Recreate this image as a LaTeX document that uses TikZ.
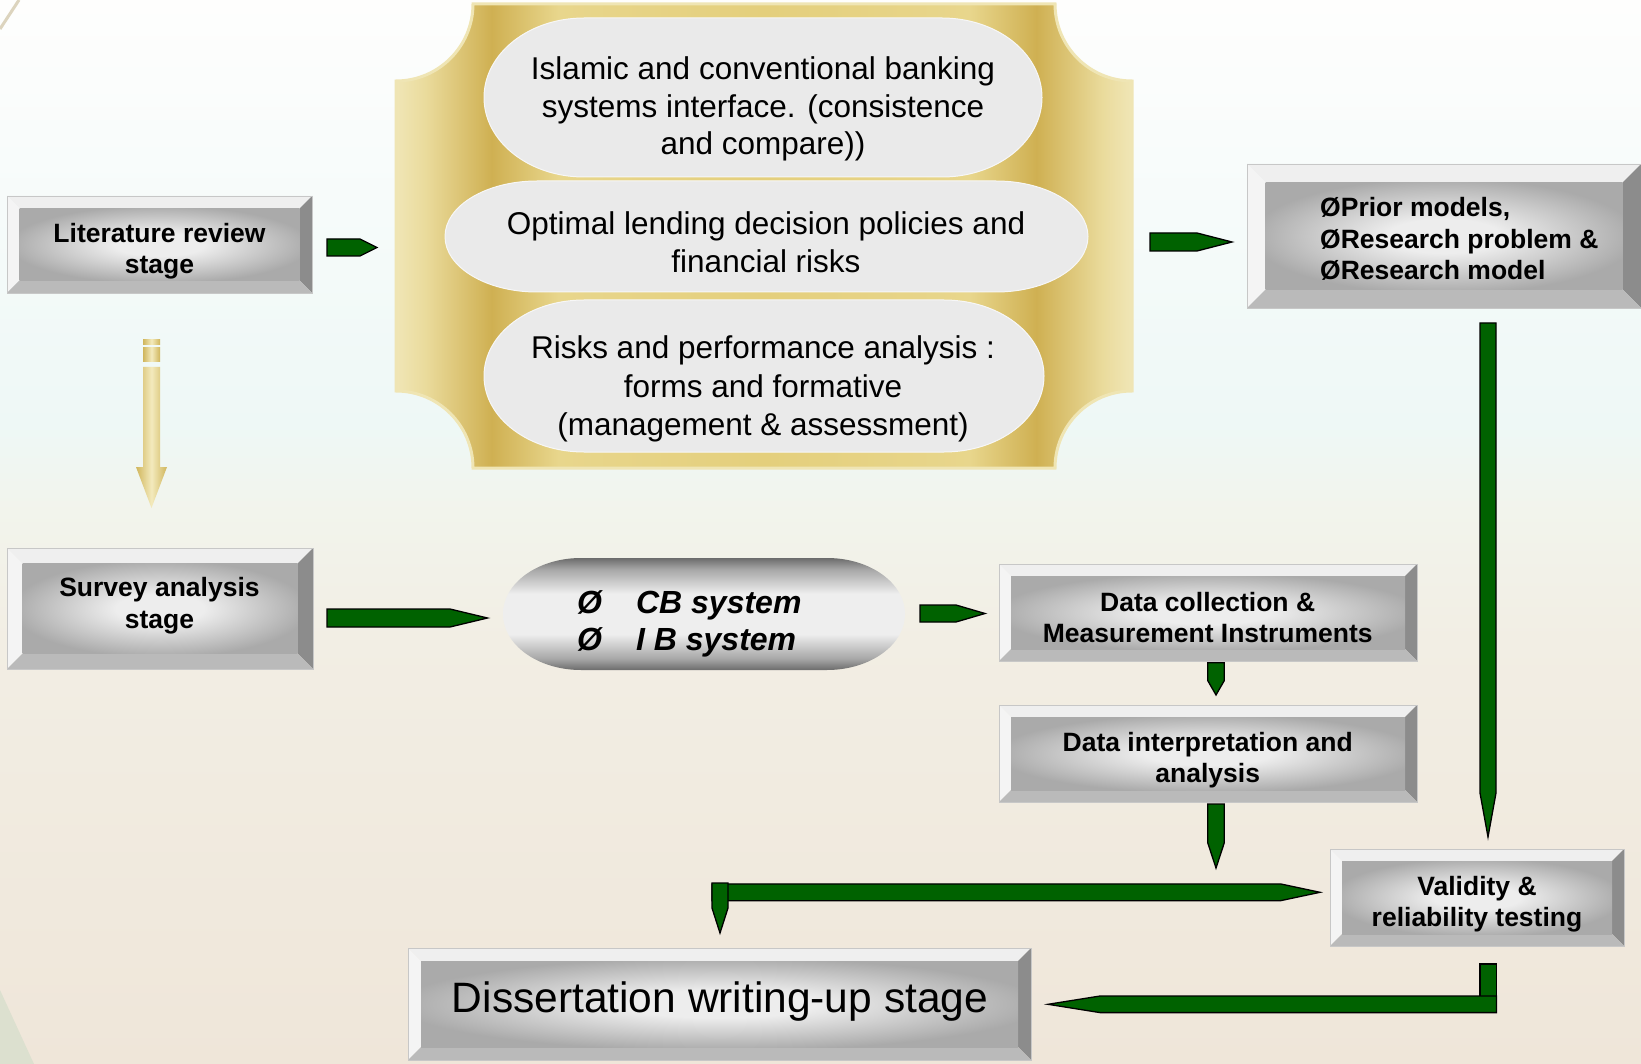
\documentclass[tikz,border=0pt]{standalone}
\usepackage{fontspec}
\setmainfont{Liberation Sans}
\usetikzlibrary{calc}
% colours
\definecolor{gfill}{RGB}{0,98,0}
\definecolor{facel}{HTML}{EDEDED}
\definecolor{faced}{HTML}{AAAAAA}
\definecolor{bvtopc}{HTML}{EFEFEF}
\definecolor{bvleftc}{HTML}{F4F4F4}
\definecolor{bvrightc}{HTML}{8C8C8C}
\definecolor{bvbotc}{HTML}{BABABA}
\definecolor{gl0}{HTML}{F0E6B6}
\definecolor{gl1}{HTML}{EADB9C}
\definecolor{gl2}{HTML}{CFB052}
\definecolor{gl3}{HTML}{E8D68C}
\definecolor{gl4}{HTML}{E4CF7C}
\definecolor{goldrim}{HTML}{EFE5B4}
\definecolor{ellc}{HTML}{EAEAEA}
\definecolor{pd}{HTML}{6C6C6C}
\definecolor{pl}{HTML}{EEEEEE}
\definecolor{ga1}{HTML}{D0B65C}
\definecolor{ga2}{HTML}{F3EABD}
\definecolor{bg0}{HTML}{EFE6D9}
\definecolor{bg1}{HTML}{F2EEE4}
\definecolor{bg2}{HTML}{F2F4EC}
\definecolor{bg3}{HTML}{EEF8F6}
\definecolor{bg4}{HTML}{F6FBFA}
\definecolor{bg5}{HTML}{FEFEFD}
\definecolor{bgcorner}{HTML}{DCE0CF}
\definecolor{bgline}{HTML}{DCD4BE}
% shadings (TikZ maps the central 25bp..75bp part onto the path)
\pgfdeclareradialshading{bvface}{\pgfpoint{0bp}{0bp}}{color(0bp)=(facel); color(8bp)=(facel); color(27bp)=(faced); color(50bp)=(faced)}
\pgfdeclarehorizontalshading{goldsh}{100bp}{color(0bp)=(gl0); color(25bp)=(gl0); color(27bp)=(gl1); color(31.5bp)=(gl2); color(36bp)=(gl3); color(50bp)=(gl4); color(64bp)=(gl3); color(68.5bp)=(gl2); color(73bp)=(gl1); color(75bp)=(gl0); color(100bp)=(gl0)}
\pgfdeclareverticalshading{pillsh}{100bp}{color(0bp)=(pd); color(25bp)=(pd); color(30bp)=(pd!55!pl); color(41bp)=(pl); color(59bp)=(pl); color(70bp)=(pd!55!pl); color(75bp)=(pd); color(100bp)=(pd)}
\pgfdeclareverticalshading{bgsh}{100bp}{color(0bp)=(bg0); color(25bp)=(bg0); color(45bp)=(bg1); color(51bp)=(bg2); color(55bp)=(bg3); color(65bp)=(bg4); color(75bp)=(bg5); color(100bp)=(bg5)}
\tikzset{
  garrow/.style={fill=gfill, draw=black, line width=1.3pt, line join=miter},
  boxframe/.style={rectangle, draw=black!22, line width=0.8pt, inner sep=0pt},
  btext/.style={inner sep=0pt, align=center, font=\fontsize{26.5}{31.5}\selectfont\bfseries},
  etext/.style={inner sep=0pt, align=center, font=\fontsize{31.5}{37.5}\selectfont},
  goldarrow/.style={left color=ga1, right color=ga1, middle color=ga2},
}
% bevelled box: name, x1, y1, x2, y2, bevel
\newcommand\bevbox[6]{%
  \fill[bvtopc] (#2,#3) -- (#4,#3) -- ({#4-#6},{#3+#6}) -- ({#2+#6},{#3+#6}) -- cycle;
  \fill[bvleftc] (#2,#3) -- ({#2+#6},{#3+#6}) -- ({#2+#6},{#5-#6}) -- (#2,#5) -- cycle;
  \fill[bvrightc] (#4,#3) -- (#4,#5) -- ({#4-#6},{#5-#6}) -- ({#4-#6},{#3+#6}) -- cycle;
  \fill[bvbotc] (#2,#5) -- (#4,#5) -- ({#4-#6},{#5-#6}) -- ({#2+#6},{#5-#6}) -- cycle;
  \shade[shading=bvface] ({#2+#6},{#3+#6}) rectangle ({#4-#6},{#5-#6});
  \node[boxframe, minimum width={#4pt-#2pt}, minimum height={#5pt-#3pt}] (#1) at ({(#2+#4)/2},{(#3+#5)/2}) {};
}
% stadium with elliptical ends: style, x1, y1, x2, y2, rx
\newcommand\stadium[6]{%
  \pgfmathsetmacro\stadA{#2+#6}%
  \pgfmathsetmacro\stadB{#4-#6}%
  \pgfmathsetmacro\stadC{(#3+#5)/2}%
  \pgfmathsetmacro\stadKx{0.5523*#6}%
  \pgfmathsetmacro\stadKy{0.5523*(#5-#3)/2}%
  \path[#1] (\stadA,#3) -- (\stadB,#3) .. controls ({\stadB+\stadKx},#3) and (#4,{\stadC-\stadKy}) .. (#4,\stadC) .. controls (#4,{\stadC+\stadKy}) and ({\stadB+\stadKx},#5) .. (\stadB,#5) -- (\stadA,#5) .. controls ({\stadA-\stadKx},#5) and (#2,{\stadC+\stadKy}) .. (#2,\stadC) .. controls (#2,{\stadC-\stadKy}) and ({\stadA-\stadKx},#3) .. (\stadA,#3) -- cycle;
}
% block arrows
\newcommand\rarr[5]{\draw[garrow] (#1,{#3-#4}) -- ({#2-#5},{#3-#4}) -- (#2,#3) -- ({#2-#5},{#3+#4}) -- (#1,{#3+#4}) -- cycle;}
\newcommand\larr[5]{\draw[garrow] (#1,{#3-#4}) -- ({#2+#5},{#3-#4}) -- (#2,#3) -- ({#2+#5},{#3+#4}) -- (#1,{#3+#4}) -- cycle;}
\newcommand\darr[5]{\draw[garrow] ({#3-#4},#1) -- ({#3-#4},{#2-#5}) -- (#3,#2) -- ({#3+#4},{#2-#5}) -- ({#3+#4},#1) -- cycle;}

\begin{document}
\begin{tikzpicture}[x=1pt,y=-1pt]
\useasboundingbox (0,0) rectangle (1641,1064);
% background
\shade[shading=bgsh] (0,0) rectangle (1641,1064);
\fill[bgcorner] (0,990) -- (34,1064) -- (0,1064) -- cycle;
\draw[bgline, line width=3pt] (0,29) -- (19,0);

% gold plaque
\shadedraw[shading=goldsh, draw=goldrim, line width=3pt]
  (473,4) -- (1055,4) .. controls (1055,46.5) and (1089.5,81) .. (1132,81)
  -- (1132,391) .. controls (1089.5,391) and (1055,425.5) .. (1055,468)
  -- (473,468) .. controls (473,425.5) and (438.5,391) .. (396,391)
  -- (396,81) .. controls (438.5,81) and (473,46.5) .. (473,4) -- cycle;

% ellipses
\stadium{fill=ellc, draw=white!60!ellc, line width=1pt}{484}{18}{1042}{177}{100}
\stadium{fill=ellc, draw=white!60!ellc, line width=1pt}{445}{181}{1088}{292}{92}
\stadium{fill=ellc, draw=white!60!ellc, line width=1pt}{484}{300}{1044}{452}{100}
\node[etext] (e1) at (763,109.3) {Islamic and conventional banking\\systems interface. (consistence\\and compare))};
\node[etext] (e2) at (766,242.1) {Optimal lending decision policies and\\financial risks};
\node[etext, font=\fontsize{31.5}{38.7}\selectfont] (e3) at (763,389) {Risks and performance analysis :\\forms and formative\\(management \& assessment)};

% bevelled boxes
\bevbox{lit}{7}{196}{312}{293}{12.5}
\node[btext] (lit-t) at (159.5,251.2) {Literature review\\stage};
\bevbox{surv}{7}{548}{313}{669}{15.5}
\node[btext] (surv-t) at (159.5,605.5) {Survey analysis\\stage};
\bevbox{prior}{1247}{164}{1641}{308}{18.5}
\node[btext, align=left, anchor=west] (prior-t) at (1320,239) {ØPrior models,\\ØResearch problem \&\\ØResearch model};
\bevbox{coll}{999}{564}{1417}{661}{12}
\node[btext] (coll-t) at (1207.7,617.3) {Data collection \&\\Measurement Instruments};
\bevbox{interp}{999}{705}{1417}{802}{12}
\node[btext] (interp-t) at (1207.7,760) {Data interpretation and\\analysis};
\bevbox{valid}{1330}{849}{1624}{946}{12}
\node[btext] (valid-t) at (1477,904.4) {Validity \&\\reliability testing};
\bevbox{diss}{408}{948}{1031}{1060}{13}
\node[inner sep=0pt, anchor=base, font=\fontsize{42.5}{50}\selectfont] (diss-t) at (720,1012.5) {Dissertation writing-up stage};

% CB / IB pill
\stadium{shade, shading=pillsh}{503}{558}{905}{670}{78}
\node[inner sep=0pt, align=left, anchor=west, font=\fontsize{32}{37}\selectfont\bfseries\itshape] (cb) at (577,623.5) {Ø\hspace{34pt}CB system\\Ø\hspace{34pt}I B system};

% gold arrow
\shade[goldarrow] (143,340) rectangle (160,345);
\shade[goldarrow] (143,348) rectangle (160,362);
\shade[goldarrow] (143,367) -- (143,467) -- (136,467) -- (151.5,508) -- (167,467) -- (160,467) -- (160,367) -- cycle;

% green block arrows
\rarr{327}{377}{247.5}{8.5}{17}
\rarr{1150}{1232}{242}{9}{35}
\rarr{327}{487.5}{618}{9}{37.5}
\rarr{920}{985}{613.5}{8.5}{29}
\darr{323}{837}{1488}{8}{44}
\darr{662.7}{695}{1216}{8.2}{14.3}
\darr{804}{868}{1216}{8.2}{25}
\rarr{712}{1320}{892.3}{8.4}{39.5}
\darr{883}{933}{720}{8}{25}
\draw[garrow] (1480,964) rectangle (1496.5,1000);
\larr{1496.5}{1048}{1004.3}{8.3}{52}
\end{tikzpicture}
\end{document}
